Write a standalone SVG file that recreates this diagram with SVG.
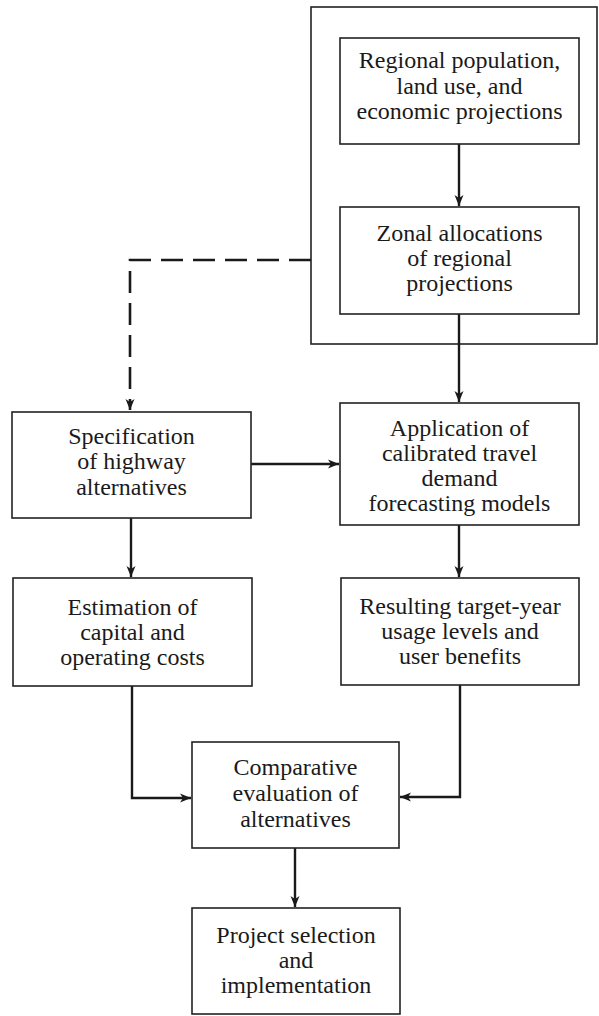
<svg xmlns="http://www.w3.org/2000/svg" width="599" height="1016" viewBox="0 0 599 1016">
<style>
.box{fill:#fff;stroke:#222;stroke-width:1.6}
.frame{fill:none;stroke:#222;stroke-width:1.6}
.t{font-family:"Liberation Serif","Times New Roman",serif;font-size:24px;fill:#1a1a1a;text-anchor:middle}
.c{fill:none;stroke:#1a1a1a;stroke-width:2.4}
.d{fill:none;stroke:#1a1a1a;stroke-width:2.6;stroke-dasharray:22 10}
</style>
<defs>
<marker id="ah" markerUnits="userSpaceOnUse" markerWidth="12" markerHeight="10" refX="11" refY="5" orient="auto">
<path d="M0,0.5 L11,5 L0,9.5 L3,5 z" fill="#1a1a1a"/>
</marker>
</defs>
<rect class="frame" x="311" y="7" width="286" height="337"/>
<g id="connectors">
<line class="c" x1="459" y1="144" x2="459" y2="206" marker-end="url(#ah)"/>
<line class="c" x1="459" y1="314" x2="459" y2="402" marker-end="url(#ah)"/>
<path class="d" d="M311,260 H130 V410" marker-end="url(#ah)"/>
<line class="c" x1="251" y1="464" x2="339" y2="464" marker-end="url(#ah)"/>
<line class="c" x1="131" y1="518" x2="131" y2="577" marker-end="url(#ah)"/>
<line class="c" x1="459" y1="525" x2="459" y2="577" marker-end="url(#ah)"/>
<path class="c" d="M132,686 V798 H191" marker-end="url(#ah)"/>
<path class="c" d="M460,685 V797 H400" marker-end="url(#ah)"/>
<line class="c" x1="295" y1="848" x2="295" y2="907" marker-end="url(#ah)"/>
</g>
<g id="regional">
<rect class="box" x="340" y="38" width="239" height="106"/>
<text class="t" x="459.5" y="68">Regional population,</text>
<text class="t" x="459.5" y="94">land use, and</text>
<text class="t" x="459.5" y="119">economic projections</text>
</g>
<g id="zonal">
<rect class="box" x="340" y="207" width="239" height="107"/>
<text class="t" x="459.5" y="241">Zonal allocations</text>
<text class="t" x="459.5" y="266">of regional</text>
<text class="t" x="459.5" y="291">projections</text>
</g>
<g id="specification">
<rect class="box" x="12" y="412" width="239" height="106"/>
<text class="t" x="131.5" y="444">Specification</text>
<text class="t" x="131.5" y="469">of highway</text>
<text class="t" x="131.5" y="495">alternatives</text>
</g>
<g id="application">
<rect class="box" x="340" y="403" width="239" height="122"/>
<text class="t" x="459.5" y="436">Application of</text>
<text class="t" x="459.5" y="461">calibrated travel</text>
<text class="t" x="459.5" y="486">demand</text>
<text class="t" x="459.5" y="511">forecasting models</text>
</g>
<g id="estimation">
<rect class="box" x="13" y="578" width="239" height="108"/>
<text class="t" x="132.5" y="615">Estimation of</text>
<text class="t" x="132.5" y="640">capital and</text>
<text class="t" x="132.5" y="665">operating costs</text>
</g>
<g id="resulting">
<rect class="box" x="341" y="578" width="238" height="107"/>
<text class="t" x="460" y="614">Resulting target-year</text>
<text class="t" x="460" y="639">usage levels and</text>
<text class="t" x="460" y="664">user benefits</text>
</g>
<g id="comparative">
<rect class="box" x="192" y="742" width="207" height="106"/>
<text class="t" x="295.5" y="775">Comparative</text>
<text class="t" x="295.5" y="801">evaluation of</text>
<text class="t" x="295.5" y="827">alternatives</text>
</g>
<g id="project">
<rect class="box" x="192" y="908" width="208" height="106"/>
<text class="t" x="296" y="943">Project selection</text>
<text class="t" x="296" y="968">and</text>
<text class="t" x="296" y="993">implementation</text>
</g>
</svg>
